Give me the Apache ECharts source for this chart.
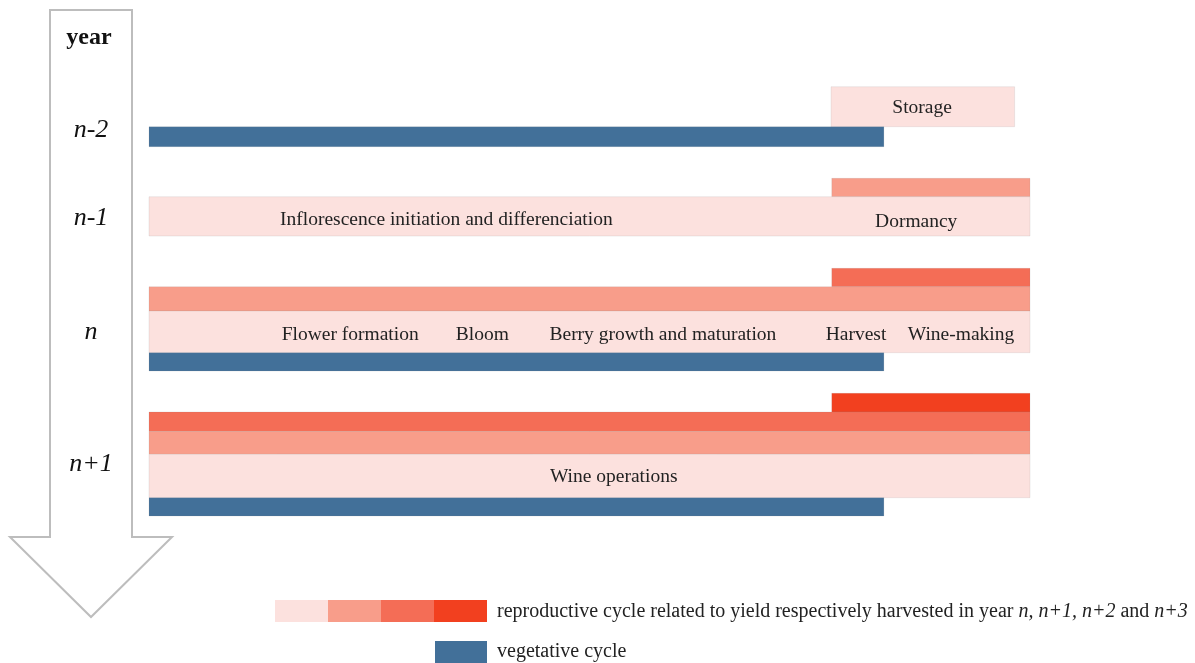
<!DOCTYPE html>
<html><head><meta charset="utf-8">
<script src="https://cdn.jsdelivr.net/npm/echarts@6/dist/echarts.min.js"></script>
<style>html,body{margin:0;padding:0;background:#fff}#c{width:1195px;height:663px}</style>
</head><body><div id="c"></div>
<script>
// ---- data ----
const years = ['n-2', 'n-1', 'n', 'n+1'];
const yearPos = [13.0, 21.8, 33.2, 46.4];           // vertical axis units
const cycleNames = ['yield n', 'yield n+1', 'yield n+2', 'yield n+3', 'vegetative'];
const cycleColors = ['#FCE1DE', '#F89D8A', '#F46D56', '#F2401F', '#427099'];

// segments (horizontal axis = season units, vertical axis = layout units)
const segCycle  = [0, 4,      1, 0,        2, 1, 0, 4,            3, 2, 1, 0, 4];
const segStart  = [9.29, 0,   9.30, 0,     9.30, 0, 0, 0,         9.30, 0, 0, 0, 0];
const segEnd    = [11.79, 10.01, 12, 12,   12, 12, 12, 10.01,     12, 12, 12, 12, 10.01];
const segTop    = [8.67, 12.67, 17.83, 19.67, 26.83, 28.67, 31.1, 35.27, 39.33, 41.2, 43.15, 45.43, 49.77];
const segBottom = [12.67, 14.67, 19.67, 23.6, 28.67, 31.1, 35.27, 37.1, 41.2, 43.15, 45.43, 49.77, 51.6];

const labelText = ['Storage', 'Inflorescence initiation and differenciation', 'Dormancy',
  'Flower formation', 'Bloom', 'Berry growth and maturation', 'Harvest', 'Wine-making',
  'Wine operations'];
const labelX = [10.53, 4.05, 10.45, 2.74, 4.54, 7.0, 9.63, 11.06, 6.33];
const labelY = [10.8, 22.0, 22.2, 33.5, 33.5, 33.5, 33.5, 33.5, 47.7];

const legendText1 = 'reproductive cycle related to yield respectively harvested in year ';
const legendItal = ['n, n+1, n+2', 'n+3'];
const legendText2 = 'vegetative cycle';

// ---- chart ----
const SERIF = '"Liberation Serif", "DejaVu Serif", serif';
const chart = echarts.init(document.getElementById('c'));
const segData = segCycle.map((c, i) => [c, segStart[i], segEnd[i], segTop[i], segBottom[i]]);
const labData = labelText.map((t, i) => [labelX[i], labelY[i], i]);
const yearData = years.map((t, i) => [-0.79, yearPos[i], i]);

const legendEls = [];
for (let i = 0; i < 4; i++) {
  legendEls.push({ type: 'rect', x: 275 + i * 53, y: 600, shape: { width: 53, height: 22 },
    style: { fill: cycleColors[i] } });
}
legendEls.push({ type: 'rect', x: 435, y: 641, shape: { width: 52, height: 22 },
  style: { fill: cycleColors[4] } });
legendEls.push({ type: 'text', x: 497, y: 612, style: {
  text: '{a|' + legendText1 + '}{i|' + legendItal[0] + '}{a| and }{i|' + legendItal[1] + '}',
  verticalAlign: 'middle',
  rich: { a: { font: '20px ' + SERIF, fill: '#222' }, i: { font: 'italic 20px ' + SERIF, fill: '#222' } } } });
legendEls.push({ type: 'text', x: 497, y: 652, style: { text: legendText2, font: '20px ' + SERIF, fill: '#222', verticalAlign: 'middle' } });

chart.setOption({
  animation: false,
  backgroundColor: '#fff',
  grid: { left: 2.17, right: 165, top: 0, bottom: 0 },
  xAxis: { type: 'value', min: -2, max: 12, show: false },
  yAxis: { type: 'value', min: 0, max: 66.3, inverse: true, show: false },
  graphic: [
    { type: 'polygon', z: 0, shape: { points: [[50, 10], [132, 10], [132, 537], [172, 537], [91, 617], [10, 537], [50, 537]] },
      style: { fill: '#fff', stroke: '#bdbdbd', lineWidth: 2 } },
    { type: 'text', z: 5, x: 89, y: 38, style: { text: 'year', font: 'bold 24px ' + SERIF, fill: '#111', align: 'center', verticalAlign: 'middle' } }
  ].concat(legendEls),
  series: [
    {
      type: 'custom', z: 2, data: segData,
      renderItem: (params, api) => {
        const p0 = api.coord([api.value(1), api.value(3)]);
        const p1 = api.coord([api.value(2), api.value(4)]);
        return { type: 'rect', shape: { x: p0[0], y: p0[1], width: p1[0] - p0[0], height: p1[1] - p0[1] },
          style: { fill: cycleColors[api.value(0)], stroke: 'rgba(140,140,140,0.25)', lineWidth: 0.6 } };
      }
    },
    {
      type: 'custom', z: 3, data: labData,
      renderItem: (params, api) => {
        const p = api.coord([api.value(0), api.value(1)]);
        return { type: 'text', x: p[0], y: p[1], style: { text: labelText[api.value(2)], font: '19.5px ' + SERIF,
          fill: '#222', align: 'center', verticalAlign: 'middle' } };
      }
    },
    {
      type: 'custom', z: 3, data: yearData,
      renderItem: (params, api) => {
        const p = api.coord([api.value(0), api.value(1)]);
        return { type: 'text', x: p[0], y: p[1], style: { text: years[api.value(2)], font: 'italic 26px ' + SERIF,
          fill: '#111', align: 'center', verticalAlign: 'middle' } };
      }
    }
  ]
});
</script></body></html>
